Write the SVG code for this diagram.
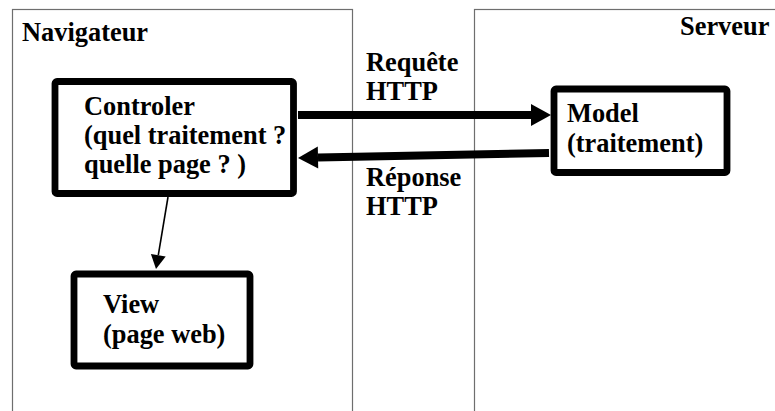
<svg xmlns="http://www.w3.org/2000/svg" width="775" height="411" viewBox="0 0 775 411">
<style>
  text { font-family: "Liberation Serif", "Times New Roman", serif; font-weight: bold; font-size: 26.4px; fill: #000; }
  .frame { fill: none; stroke: #6e6e6e; stroke-width: 1.2; }
  .box { fill: #fff; stroke: #000; stroke-width: 6.8; stroke-linejoin: round; }
  .thick { fill: none; stroke: #000; stroke-width: 8; }
  .thin { fill: none; stroke: #000; stroke-width: 1.6; }
</style>
<defs>
  <marker id="bigHead" markerUnits="userSpaceOnUse" markerWidth="21" markerHeight="23" refX="0" refY="11" orient="auto" overflow="visible">
    <path d="M0,0 L20,11 L0,22 Z" fill="#000"/>
  </marker>
  <marker id="smallHead" markerUnits="userSpaceOnUse" markerWidth="15" markerHeight="15" refX="0" refY="7.5" orient="auto" overflow="visible">
    <path d="M0,0 L14,7.5 L0,15 Z" fill="#000"/>
  </marker>
</defs>
<rect width="775" height="411" fill="#fff"/>

<g id="navigateur">
  <rect class="frame" x="12.5" y="9.5" width="340" height="420"/>
  <text x="22" y="41">Navigateur</text>
</g>
<g id="serveur">
  <rect class="frame" x="474.5" y="9.5" width="320" height="420"/>
  <text x="680" y="35">Serveur</text>
</g>
<g id="labels">
  <text x="366" y="71">Requête</text>
  <text x="366" y="100">HTTP</text>
  <text x="366" y="186">Réponse</text>
  <text x="366" y="215">HTTP</text>
</g>

<g id="connectors">
  <line class="thick" x1="298" y1="115" x2="531" y2="115" marker-end="url(#bigHead)"/>
  <line class="thick" x1="549" y1="153" x2="318" y2="157.5" marker-end="url(#bigHead)"/>
  <line class="thin" x1="168" y1="197" x2="158.3" y2="255.2" marker-end="url(#smallHead)"/>
</g>

<g id="controler">
  <rect class="box" x="55" y="81.5" width="238.5" height="112" rx="2"/>
  <text x="84" y="115">Controler</text>
  <text x="84" y="144">(quel traitement ?</text>
  <text x="84" y="173">quelle page ? )</text>
</g>
<g id="model">
  <rect class="box" x="554" y="89" width="173" height="83.5" rx="2"/>
  <text x="567" y="122">Model</text>
  <text x="567" y="152">(traitement)</text>
</g>
<g id="view">
  <rect class="box" x="74" y="274" width="176" height="92" rx="2"/>
  <text x="103" y="313">View</text>
  <text x="103" y="343">(page web)</text>
</g>
</svg>
